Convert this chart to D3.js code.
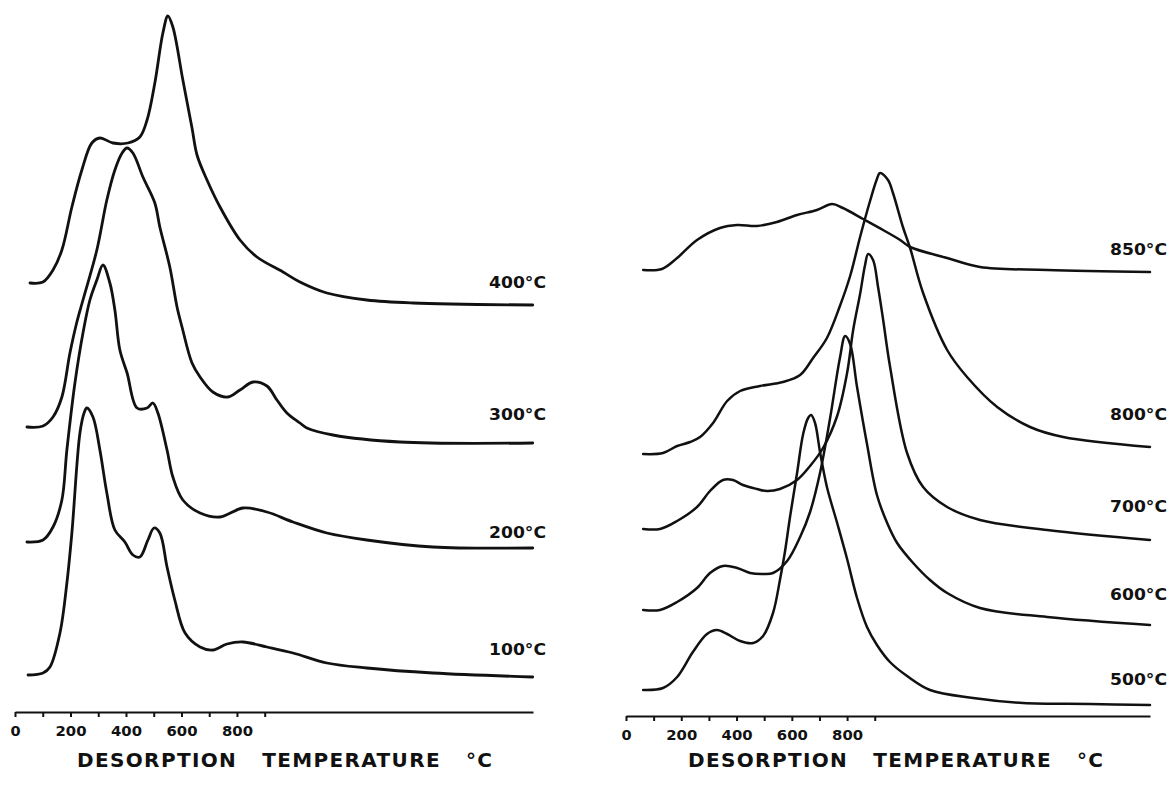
<!DOCTYPE html>
<html>
<head>
<meta charset="utf-8">
<script src="https://cdn.jsdelivr.net/npm/d3@7"></script>
<style>
  html, body { margin: 0; padding: 0; background: #fff; }
  svg { display: block; }
  text { font-family: "DejaVu Sans", "Liberation Sans", Arial, sans-serif; font-weight: bold; fill: #111; }
</style>
</head>
<body>
<svg id="chart" width="1169" height="788"></svg>
<script>
// ---- data (temperature °C, intensity a.u.) ----
const tempTicks = [0, 100, 200, 300, 400, 500, 600, 700, 800, 900];
const tickLabels = [0, 200, 400, 600, 800];
const xTitle = "DESORPTION   TEMPERATURE   \u00B0C";

// left panel: adsorption at 100–400 °C
const leftNames = ["100\u00B0C", "200\u00B0C", "300\u00B0C", "400\u00B0C"];
const leftLabelLevels = [62, 179, 297, 429];
const curve100 = [[47,37],[101,39],[126,45],[162,79],[187,129],[205,179],[234,279],[249,299],[259,304],[281,295],[306,262],[331,219],[360,182],[396,170],[425,157],[450,155],[479,172],[501,184],[522,179],[548,145],[576,112],[613,79],[667,65],[713,62],[764,68],[822,70],[908,65],[1002,59],[1124,49],[1268,44],[1506,39],[1866,35]];
const curve200 = [[43,170],[101,172],[137,185],[169,212],[187,262],[216,329],[245,379],[270,412],[295,432],[317,447],[342,429],[360,402],[378,362],[404,339],[440,304],[476,304],[497,309],[515,299],[548,262],[569,235],[605,212],[667,199],[739,195],[822,204],[908,200],[1002,190],[1124,179],[1268,172],[1506,165],[1866,164]];
const curve300 = [[43,285],[101,286],[137,295],[169,315],[198,359],[223,390],[245,412],[295,462],[331,512],[360,542],[386,559],[404,564],[425,559],[461,535],[504,509],[522,485],[558,445],[584,405],[602,385],[638,349],[667,335],[713,320],[767,315],[811,322],[858,330],[908,326],[944,312],[980,299],[1027,289],[1052,284],[1146,277],[1387,270],[1866,269]];
const curve400 = [[54,429],[101,430],[137,442],[169,462],[205,505],[241,542],[277,569],[306,574],[353,569],[407,569],[450,575],[476,592],[504,629],[533,679],[551,696],[569,685],[605,632],[638,584],[656,557],[692,532],[739,505],[811,472],[872,455],[966,440],[1027,430],[1124,419],[1268,412],[1434,409],[1866,407]];

// right panel: adsorption at 500–850 °C
const rightNames = ["500\u00B0C", "600\u00B0C", "700\u00B0C", "800\u00B0C", "850\u00B0C"];
const rightLabelLevels = [36, 121, 209, 301, 466];
const curve500 = [[62,26],[134,28],[185,39],[242,64],[293,82],[329,86],[366,82],[413,75],[460,73],[496,80],[532,103],[557,136],[575,164],[594,200],[619,243],[641,282],[659,298],[670,301],[684,293],[702,264],[727,229],[764,193],[800,157],[836,118],[872,89],[908,71],[955,54],[1017,40],[1100,26],[1256,18],[1437,13],[1679,12],[1896,11]];
const curve600 = [[62,106],[123,106],[185,114],[257,128],[304,143],[351,150],[402,148],[449,143],[496,142],[532,143],[583,155],[630,179],[666,204],[702,243],[738,297],[774,358],[793,380],[811,372],[836,329],[872,272],[908,221],[945,193],[981,173],[1039,153],[1100,136],[1162,123],[1281,108],[1524,99],[1896,91]];
const curve700 = [[62,187],[123,187],[185,195],[257,209],[304,225],[351,236],[387,236],[423,231],[474,227],[510,225],[557,227],[619,236],[666,250],[713,268],[764,300],[800,343],[822,386],[847,422],[865,451],[876,462],[894,456],[912,429],[930,397],[955,350],[1017,263],[1075,229],[1162,209],[1281,196],[1524,186],[1896,176]];
const curve800 = [[62,262],[134,263],[185,270],[232,274],[268,279],[315,293],[366,315],[413,325],[485,330],[568,334],[630,341],[677,358],[727,378],[774,410],[811,440],[847,479],[883,515],[908,537],[919,543],[948,536],[966,523],[1002,489],[1028,468],[1075,423],[1162,366],[1234,339],[1343,309],[1462,289],[1582,279],[1896,269]];
const curve850 = [[62,446],[130,447],[185,458],[257,476],[340,488],[402,491],[474,490],[546,494],[619,501],[691,506],[746,512],[785,508],[858,497],[930,486],[992,476],[1028,469],[1162,458],[1281,449],[1524,446],[1896,444]];

const leftCurves = [curve100, curve200, curve300, curve400];
const rightCurves = [curve500, curve600, curve700, curve800, curve850];

// ---- drawing ----
const svg = d3.select("#chart");
svg.append("rect").attr("width", 1169).attr("height", 788).attr("fill", "#fff");

function panel(cfg) {
  const x = d3.scaleLinear().domain([0, cfg.tMax]).range([cfg.x0, cfg.x1]);
  const y = d3.scaleLinear().domain([0, 700]).range([cfg.axisY, cfg.axisY - 700]);
  const g = svg.append("g");

  const line = d3.line()
    .x(d => x(d[0]))
    .y(d => y(d[1]))
    .curve(d3.curveCatmullRom.alpha(0.5));

  g.selectAll("path.curve")
    .data(cfg.curves)
    .join("path")
    .attr("class", "curve")
    .attr("d", line)
    .attr("fill", "none")
    .attr("stroke", "#111")
    .attr("stroke-width", cfg.sw)
    .attr("stroke-linejoin", "round")
    .attr("stroke-linecap", "round");

  // series labels
  g.selectAll("text.lab")
    .data(cfg.names)
    .join("text")
    .attr("class", "lab")
    .attr("x", cfg.x1 + cfg.labDx)
    .attr("y", (d, i) => y(cfg.levels[i]))
    .attr("text-anchor", "end")
    .attr("dominant-baseline", "central")
    .attr("font-size", 15)
    .attr("textLength", 57)
    .attr("lengthAdjust", "spacingAndGlyphs")
    .text(d => d);

  // axis
  const axis = d3.axisBottom(x)
    .tickValues(tempTicks)
    .tickSize(5)
    .tickSizeOuter(0)
    .tickPadding(9)
    .tickFormat(d => tickLabels.includes(d) ? String(d) : "");
  const ag = g.append("g").attr("transform", `translate(0,${cfg.axisY})`).call(axis);
  ag.select(".domain").attr("stroke", "#111").attr("stroke-width", 2.2);
  ag.selectAll(".tick line").attr("stroke", "#111").attr("stroke-width", 2);
  ag.selectAll(".tick text")
    .attr("fill", "#111")
    .attr("font-size", 14.5)
    .attr("font-weight", "bold")
    .attr("font-family", "'DejaVu Sans', 'Liberation Sans', Arial, sans-serif")
    .each(function(d) {
      if (String(d).length === 3) {
        d3.select(this).attr("textLength", 31).attr("lengthAdjust", "spacingAndGlyphs");
      }
    });

  // axis title
  g.append("text")
    .attr("x", cfg.titleX)
    .attr("y", 760)
    .attr("dominant-baseline", "central")
    .attr("font-size", 20)
    .attr("textLength", 415)
    .attr("lengthAdjust", "spacing")
    .style("white-space", "pre")
    .text(xTitle);
}

panel({ curves: leftCurves, names: leftNames, levels: leftLabelLevels,
        tMax: 1867, x0: 15, x1: 533, axisY: 712, sw: 2.8, labDx: 13, titleX: 77 });
panel({ curves: rightCurves, names: rightNames, levels: rightLabelLevels,
        tMax: 1896, x0: 626, x1: 1150, axisY: 716, sw: 2.5, labDx: 17, titleX: 688 });
</script>
</body>
</html>
